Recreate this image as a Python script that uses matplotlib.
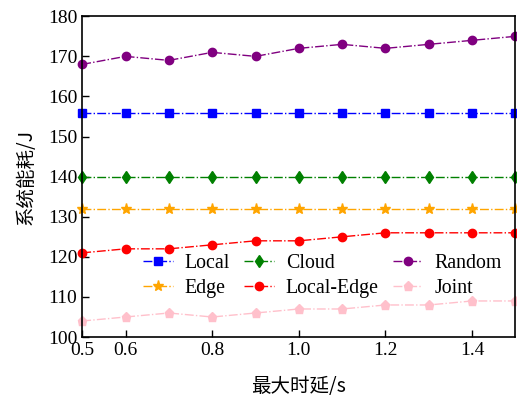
import matplotlib.pyplot as plt

plt.rcParams['font.family'] = ['Liberation Serif', 'Noto Sans CJK SC']
plt.rcParams['mathtext.fontset'] = 'stix'

# ── Data ────────────────────────────────────────────────────────────────
delay = [0.5, 0.6, 0.7, 0.8, 0.9, 1.0, 1.1, 1.2, 1.3, 1.4, 1.5]
local = [156] * 11
cloud = [140] * 11
random_ = [168, 170, 169, 171, 170, 172, 173, 172, 173, 174, 175]
edge = [132] * 11
local_edge = [121, 122, 122, 123, 124, 124, 125, 126, 126, 126, 126]
joint = [104, 105, 106, 105, 106, 107, 107, 108, 108, 109, 109]

xticks = [0.5, 0.6, 0.8, 1.0, 1.2, 1.4]
yticks = [100, 110, 120, 130, 140, 150, 160, 170, 180]

fig = plt.figure(figsize=(5.17, 3.97), dpi=100)
ax = fig.add_axes([0.159, 0.151, 0.838, 0.808])

common = dict(linestyle='-.', linewidth=1.0, clip_on=False)
h_local, = ax.plot(delay, local, color='blue', marker='s', markersize=5.5,
                   label='Local', **common)
h_cloud, = ax.plot(delay, cloud, color='green', marker='d', markersize=6.5,
                   label='Cloud', **common)
h_rand, = ax.plot(delay, random_, color='purple', marker='o', markersize=6,
                  label='Random', **common)
h_edge, = ax.plot(delay, edge, color='orange', marker='*', markersize=8,
                  label='Edge', **common)
h_le, = ax.plot(delay, local_edge, color='red', marker='o', markersize=6,
                label='Local-Edge', **common)
h_joint, = ax.plot(delay, joint, color='pink', marker='p', markersize=6.5,
                   label='Joint', **common)

ax.set_xlim(0.5, 1.5)
ax.set_ylim(100, 180)
ax.set_xticks(xticks)
ax.set_xticklabels(['0.5', '0.6', '0.8', '1.0', '1.2', '1.4'])
ax.set_yticks(yticks)
ax.tick_params(direction='in', labelsize=14, length=5, width=1)
for s in ax.spines.values():
    s.set_linewidth(1.2)

ax.set_xlabel('最大时延/s', fontsize=14, labelpad=12,
              family=['Noto Sans CJK SC', 'Liberation Serif'])
ax.set_ylabel('系统能耗/J', fontsize=14, labelpad=8,
              family=['Noto Sans CJK SC', 'Liberation Serif'])

handles = [h_local, h_edge, h_cloud, h_le, h_rand, h_joint]
ax.legend(handles=handles, labels=[h.get_label() for h in handles],
          ncol=3, frameon=False, fontsize=14.3, loc='center left',
          bbox_to_anchor=(0.113, 0.19), handlelength=1.5,
          columnspacing=0.7, labelspacing=0.3, handletextpad=0.6,
          borderpad=0.1)

fig.savefig('out.png', dpi=100)
